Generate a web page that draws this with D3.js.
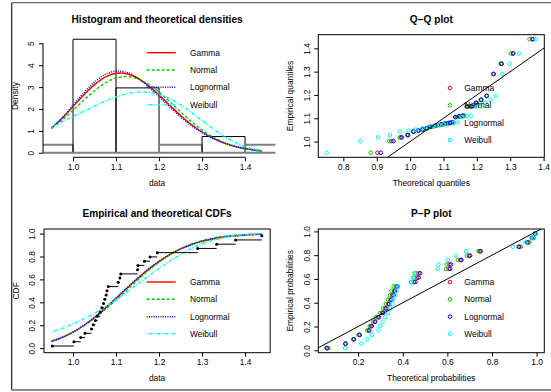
<!DOCTYPE html>
<html><head><meta charset="utf-8">
<script src="https://cdn.jsdelivr.net/npm/d3@7"></script>
<style>
html,body{margin:0;padding:0;background:#fff;}
svg{display:block;}
text{font-family:"Liberation Sans",Arial,Helvetica,sans-serif;fill:#000;}
</style></head><body>
<svg id="chart" width="551" height="392"></svg>
<script>
// ---------------- data ----------------
const distNames = ["Gamma", "Normal", "Lognormal", "Weibull"];
const obs = [0.952, 1.002, 1.018, 1.028, 1.043, 1.047, 1.052, 1.057, 1.063, 1.067, 1.071, 1.074, 1.077, 1.079,
             1.082, 1.105, 1.109, 1.111, 1.150, 1.151, 1.166, 1.179, 1.196, 1.290, 1.334, 1.378, 1.439];
const histBreaks = [0.9, 1.0, 1.1, 1.2, 1.3, 1.4, 1.5];
const gridX = [0.95, 0.975, 1.0, 1.025, 1.05, 1.075, 1.1, 1.125, 1.15, 1.175, 1.2, 1.225, 1.25, 1.275,
               1.3, 1.325, 1.35, 1.375, 1.4, 1.425, 1.44];
// densities
const gammaDens = [1.13, 1.587, 2.112, 2.641, 3.111, 3.455, 3.630, 3.611, 3.411, 3.068, 2.634, 2.164, 1.706, 1.294, 0.947, 0.667, 0.454, 0.298, 0.188, 0.114, 0.083];
const normDens  = [1.12, 1.50, 1.94, 2.40, 2.83, 3.19, 3.41, 3.48, 3.38, 3.14, 2.77, 2.33, 1.87, 1.43, 1.04, 0.72, 0.48, 0.30, 0.18, 0.10, 0.073];
const lnormDens = [1.11, 1.601, 2.169, 2.738, 3.233, 3.579, 3.731, 3.671, 3.420, 3.032, 2.568, 2.087, 1.637, 1.242, 0.916, 0.655, 0.454, 0.303, 0.195, 0.120, 0.088];
const weibDens  = [1.16, 1.421, 1.652, 1.891, 2.130, 2.354, 2.547, 2.692, 2.770, 2.764, 2.665, 2.472, 2.193, 1.849, 1.475, 1.102, 0.766, 0.490, 0.285, 0.150, 0.096];
// CDFs
const gammaCdf = [0.0591, 0.0932, 0.1390, 0.1974, 0.2676, 0.3472, 0.4325, 0.5205, 0.6060, 0.6855, 0.7558, 0.8165, 0.8656, 0.9044, 0.9338, 0.9554, 0.9707, 0.9812, 0.9882, 0.9928, 0.9947];
const normCdf  = [0.0645, 0.0971, 0.1403, 0.1949, 0.2611, 0.3369, 0.4200, 0.5070, 0.5937, 0.6758, 0.7502, 0.8146, 0.8674, 0.9088, 0.9398, 0.9618, 0.9768, 0.9865, 0.9925, 0.9960, 0.9973];
const lnormCdf = [0.0565, 0.0913, 0.1385, 0.1985, 0.2709, 0.3523, 0.4392, 0.5273, 0.6122, 0.6901, 0.7590, 0.8173, 0.8648, 0.9020, 0.9307, 0.9518, 0.9671, 0.9779, 0.9854, 0.9904, 0.9926];
const weibCdf  = [0.140, 0.1727, 0.2112, 0.2554, 0.3057, 0.3618, 0.4232, 0.4888, 0.5572, 0.6266, 0.6947, 0.7590, 0.8175, 0.8682, 0.9097, 0.9419, 0.9651, 0.9807, 0.9902, 0.9955, 0.9974];
// theoretical quantiles (Q-Q plot x values)
const gammaQ = [0.902, 0.944, 0.972, 0.992, 1.010, 1.025, 1.038, 1.050, 1.062, 1.074, 1.084, 1.095, 1.105, 1.116, 1.127, 1.137, 1.148, 1.160, 1.172, 1.184, 1.198, 1.213, 1.230, 1.250, 1.274, 1.308, 1.366];
const normQ  = [0.882, 0.938, 0.969, 0.991, 1.010, 1.026, 1.040, 1.053, 1.065, 1.077, 1.088, 1.099, 1.109, 1.120, 1.131, 1.141, 1.152, 1.163, 1.175, 1.187, 1.200, 1.214, 1.230, 1.249, 1.271, 1.302, 1.358];
const lnormQ = [0.912, 0.950, 0.975, 0.994, 1.010, 1.024, 1.037, 1.049, 1.060, 1.072, 1.083, 1.093, 1.103, 1.114, 1.125, 1.135, 1.147, 1.158, 1.170, 1.183, 1.197, 1.212, 1.229, 1.250, 1.274, 1.309, 1.368];
const weibQ  = [0.750, 0.851, 0.904, 0.940, 0.970, 0.995, 1.017, 1.037, 1.055, 1.071, 1.086, 1.100, 1.116, 1.129, 1.143, 1.156, 1.170, 1.183, 1.196, 1.210, 1.225, 1.241, 1.257, 1.276, 1.298, 1.327, 1.377];
// theoretical probabilities (P-P plot x values)
const gammaP = [0.062, 0.143, 0.180, 0.205, 0.247, 0.258, 0.274, 0.289, 0.308, 0.321, 0.334, 0.344, 0.353, 0.361, 0.370, 0.450, 0.464, 0.471, 0.606, 0.609, 0.658, 0.697, 0.745, 0.923, 0.962, 0.982, 0.995];
const normP  = [0.067, 0.144, 0.178, 0.202, 0.241, 0.252, 0.267, 0.281, 0.299, 0.312, 0.324, 0.334, 0.343, 0.350, 0.359, 0.437, 0.451, 0.458, 0.594, 0.597, 0.647, 0.688, 0.739, 0.929, 0.968, 0.987, 0.997];
const lnormP = [0.059, 0.143, 0.181, 0.207, 0.250, 0.261, 0.277, 0.293, 0.312, 0.326, 0.339, 0.349, 0.359, 0.366, 0.376, 0.457, 0.471, 0.478, 0.612, 0.616, 0.663, 0.702, 0.749, 0.920, 0.958, 0.979, 0.993];
const weibP  = [0.142, 0.215, 0.242, 0.261, 0.291, 0.299, 0.310, 0.321, 0.334, 0.343, 0.353, 0.359, 0.367, 0.371, 0.379, 0.436, 0.446, 0.452, 0.557, 0.560, 0.602, 0.638, 0.684, 0.894, 0.951, 0.982, 0.997];
const densTicksX = [1.0, 1.1, 1.2, 1.3, 1.4];
const densTicksY = [0, 1, 2, 3, 4, 5];
const qqTicksX = [0.8, 0.9, 1.0, 1.1, 1.2, 1.3, 1.4];
const qqTicksY = [1.0, 1.1, 1.2, 1.3, 1.4];
const probTicks = [0.0, 0.2, 0.4, 0.6, 0.8, 1.0];
const ppTicksX = [0.2, 0.4, 0.6, 0.8, 1.0];

// ---------------- style ----------------
const colors = ["#ff0000", "#00cd00", "#0000ff", "#00ffff"];
const dashes = [null, "3,2", "1,1.3", "1,1.5,3.5,1.5"];
const FS = 8.4, TFS = 10.1, PR = 1.8, PW = 1.0;

const svg = d3.select("#chart");
const n = obs.length;
const ppos = obs.map((d, i) => (i + 0.5) / n);
const dens = [gammaDens, normDens, lnormDens, weibDens];
const cdfs = [gammaCdf, normCdf, lnormCdf, weibCdf];
const qs = [gammaQ, normQ, lnormQ, weibQ];
const ps = [gammaP, normP, lnormP, weibP];

function ext4(arr) { const e = d3.extent(arr); const r = e[1] - e[0]; return [e[0] - 0.04 * r, e[1] + 0.04 * r]; }

// outer frame
svg.append("line").attr("x1", 11.7).attr("x2", 551).attr("y1", 2.7).attr("y2", 2.7).attr("stroke", "#666").attr("stroke-width", 1.3);
svg.append("line").attr("x1", 11.7).attr("x2", 11.7).attr("y1", 2.7).attr("y2", 390).attr("stroke", "#222").attr("stroke-width", 1.2);
svg.append("line").attr("x1", 11.7).attr("x2", 551).attr("y1", 390).attr("y2", 390).attr("stroke", "#666").attr("stroke-width", 1.3);

function title(txt, cx, cy) {
  svg.append("text").attr("x", cx).attr("y", cy).attr("dy", "0.35em").attr("text-anchor", "middle")
    .attr("font-size", TFS).attr("font-weight", "bold").text(txt);
}
function xAxis(scale, ticks, y0, fmt, label, withLine) {
  const g = svg.append("g").attr("transform", `translate(0,${y0})`)
    .call(d3.axisBottom(scale).tickValues(ticks).tickSize(4).tickSizeOuter(0).tickPadding(2.7).tickFormat(fmt));
  g.select(".domain").remove();
  g.selectAll("line").attr("stroke", "#000");
  g.selectAll("text").attr("font-size", FS).attr("font-family", null);
  if (withLine) g.append("line").attr("x1", scale(ticks[0])).attr("x2", scale(ticks[ticks.length - 1])).attr("stroke", "#000");
  const r = scale.range();
  svg.append("text").attr("x", (r[0] + r[1]) / 2).attr("y", y0 + 25.7).attr("dy", "0.35em").attr("text-anchor", "middle").attr("font-size", FS).text(label);
}
function yAxis(scale, ticks, x0, fmt, label, withLine) {
  const g = svg.append("g").attr("transform", `translate(${x0},0)`)
    .call(d3.axisLeft(scale).tickValues(ticks).tickSize(4).tickSizeOuter(0).tickFormat(fmt));
  g.select(".domain").remove();
  g.selectAll("line").attr("stroke", "#000");
  g.selectAll("text").attr("font-size", FS).attr("font-family", null).attr("x", null).attr("dy", "0.35em")
    .attr("text-anchor", "middle").attr("transform", "translate(-11.5,0) rotate(-90)");
  if (withLine) g.append("line").attr("y1", scale(ticks[0])).attr("y2", scale(ticks[ticks.length - 1])).attr("stroke", "#000");
  const r = scale.range();
  svg.append("text").attr("transform", `translate(${x0 - 28},${(r[0] + r[1]) / 2}) rotate(-90)`).attr("dy", "0.35em")
    .attr("text-anchor", "middle").attr("font-size", FS).text(label);
}
function box(x, y) {
  svg.append("rect").attr("x", x.range()[0]).attr("y", y.range()[1]).attr("width", x.range()[1] - x.range()[0])
    .attr("height", y.range()[0] - y.range()[1]).attr("fill", "none").attr("stroke", "#000").attr("stroke-width", 1);
}
function clip(id, x0, y0, w, h) {
  svg.append("clipPath").attr("id", id).append("rect").attr("x", x0).attr("y", y0).attr("width", w).attr("height", h);
}
function lineLegend(x1, x2, tx, ys) {
  distNames.forEach((nm, i) => {
    svg.append("line").attr("x1", x1).attr("x2", x2).attr("y1", ys[i]).attr("y2", ys[i]).attr("stroke", colors[i])
      .attr("stroke-width", 1.4).attr("stroke-dasharray", dashes[i]);
    svg.append("text").attr("x", tx).attr("y", ys[i]).attr("dy", "0.35em").attr("font-size", FS).text(nm);
  });
}
function pointLegend(px, tx, ys) {
  distNames.forEach((nm, i) => {
    svg.append("circle").attr("cx", px).attr("cy", ys[i]).attr("r", PR).attr("fill", "none").attr("stroke", colors[i]).attr("stroke-width", PW);
    svg.append("text").attr("x", tx).attr("y", ys[i]).attr("dy", "0.35em").attr("font-size", FS).text(nm);
  });
}

const xData = d3.scaleLinear().domain(ext4(obs)).range([44, 270.2]);

// ---------------- panel 1: histogram ----------------
{
  const bins = d3.bin().domain([histBreaks[0], histBreaks[histBreaks.length - 1]]).thresholds(histBreaks.slice(1, -1))(obs);
  bins.forEach(b => b.dens = b.length / (n * (b.x1 - b.x0)));
  const maxD = d3.max(bins, b => b.dens);
  const y = d3.scaleLinear().domain([-0.04 * maxD, 1.04 * maxD]).range([157.3, 34.7]);
  clip("clipHist", 43, 0, 232.5, 392);
  const g = svg.append("g").attr("clip-path", "url(#clipHist)");
  bins.forEach(b => {
    const thin = b.length === 1;
    g.append("path").attr("d", `M${xData(b.x0)},${y(0)}V${y(b.dens)}H${xData(b.x1)}V${y(0)}`)
      .attr("fill", "none").attr("stroke", thin ? "#808080" : "#000").attr("stroke-width", thin ? 2 : 1);
  });
  g.append("line").attr("x1", 43).attr("x2", 276).attr("y1", y(0)).attr("y2", y(0)).attr("stroke", "#808080").attr("stroke-width", 2);
  dens.forEach((arr, k) => {
    svg.append("path").datum(arr).attr("fill", "none").attr("stroke", colors[k]).attr("stroke-width", 1.4)
      .attr("stroke-dasharray", dashes[k])
      .attr("d", d3.line().x((d, i) => xData(gridX[i])).y(d => y(d)).curve(d3.curveCatmullRom)(arr));
  });
  xAxis(xData, densTicksX, 157.3, d3.format(".1f"), "data", true);
  yAxis(y, densTicksY, 43, d3.format("d"), "Density", true);
  title("Histogram and theoretical densities", 157.1, 19.5);
  lineLegend(146.7, 175.7, 190, [52.7, 70, 87.3, 104.7]);
}

// ---------------- panel 2: Q-Q ----------------
{
  const x = d3.scaleLinear().domain(ext4(qs.flat())).range([318.3, 544.3]);
  const y = d3.scaleLinear().domain(ext4(obs)).range([157.3, 34.7]);
  clip("clipQQ", 318.3, 34.7, 226, 122.6);
  qs.forEach((arr, k) => {
    svg.append("g").selectAll("circle").data(arr).join("circle")
      .attr("cx", d => x(d)).attr("cy", (d, i) => y(obs[i])).attr("r", PR)
      .attr("fill", "none").attr("stroke", colors[k]).attr("stroke-width", PW);
  });
  const dm = x.domain();
  svg.append("line").attr("clip-path", "url(#clipQQ)").attr("x1", x(dm[0])).attr("y1", y(dm[0])).attr("x2", x(dm[1])).attr("y2", y(dm[1]))
    .attr("stroke", "#000").attr("stroke-width", 1);
  box(x, y);
  xAxis(x, qqTicksX, 157.3, d3.format(".1f"), "Theoretical quantiles", false);
  yAxis(y, qqTicksY, 318.3, d3.format(".1f"), "Empirical quantiles", false);
  title("Q\u2212Q plot", 431.3, 19.5);
  pointLegend(450, 464.3, [88, 105.3, 122.7, 140]);
}

// ---------------- panel 3: CDF ----------------
{
  const y = d3.scaleLinear().domain([-0.04, 1.04]).range([352.7, 229]);
  cdfs.forEach((arr, k) => {
    svg.append("path").datum(arr).attr("fill", "none").attr("stroke", colors[k]).attr("stroke-width", 1.4)
      .attr("stroke-dasharray", dashes[k])
      .attr("d", d3.line().x((d, i) => xData(gridX[i])).y(d => y(d)).curve(d3.curveCatmullRom)(arr));
  });
  const g = svg.append("g");
  obs.forEach((d, i) => {
    if (i < n - 1) g.append("line").attr("x1", xData(d)).attr("x2", xData(obs[i + 1])).attr("y1", y(ppos[i])).attr("y2", y(ppos[i]))
      .attr("stroke", "#000").attr("stroke-width", 1);
  });
  g.selectAll("circle").data(obs).join("circle").attr("cx", d => xData(d)).attr("cy", (d, i) => y(ppos[i])).attr("r", 1.5).attr("fill", "#000");
  box(xData, y);
  xAxis(xData, densTicksX, 352.7, d3.format(".1f"), "data", false);
  yAxis(y, probTicks, 44, d3.format(".1f"), "CDF", false);
  title("Empirical and theoretical CDFs", 157.1, 213.3);
  lineLegend(146.7, 175.7, 190, [282, 299.3, 316.7, 333.7]);
}

// ---------------- panel 4: P-P ----------------
{
  const x = d3.scaleLinear().domain(ext4(ps.flat())).range([318.3, 544.3]);
  const y = d3.scaleLinear().domain(ext4(ppos)).range([352.7, 229]);
  clip("clipPP", 318.3, 229, 226, 123.7);
  ps.forEach((arr, k) => {
    svg.append("g").selectAll("circle").data(arr).join("circle")
      .attr("cx", d => x(d)).attr("cy", (d, i) => y(ppos[i])).attr("r", PR)
      .attr("fill", "none").attr("stroke", colors[k]).attr("stroke-width", PW);
  });
  svg.append("line").attr("clip-path", "url(#clipPP)").attr("x1", x(0)).attr("y1", y(0)).attr("x2", x(1.1)).attr("y2", y(1.1))
    .attr("stroke", "#000").attr("stroke-width", 1);
  box(x, y);
  xAxis(x, ppTicksX, 352.7, d3.format(".1f"), "Theoretical probabilities", false);
  yAxis(y, probTicks, 318.3, d3.format(".1f"), "Empirical probabilities", false);
  title("P\u2212P plot", 431.3, 213.3);
  pointLegend(450, 464.3, [282, 299.3, 316.7, 333.7]);
}
</script>
</body></html>
